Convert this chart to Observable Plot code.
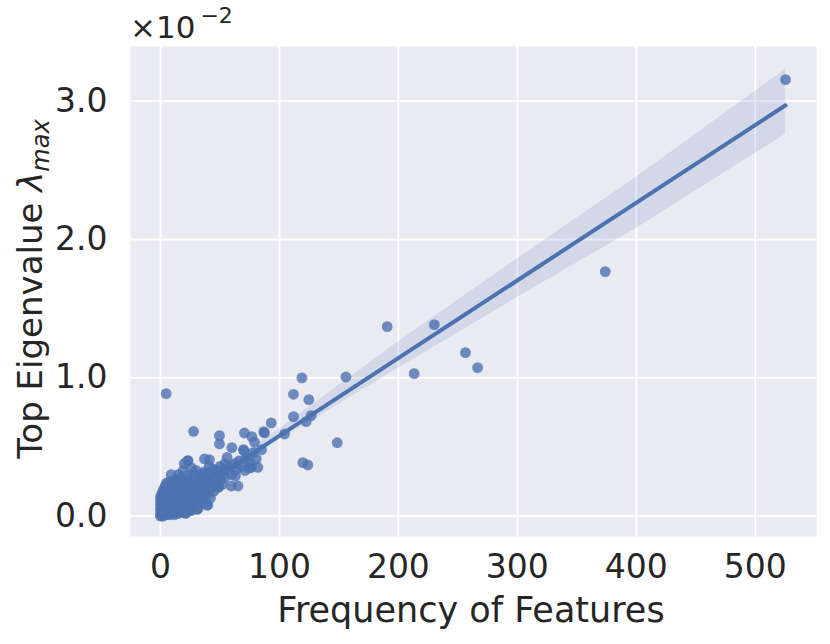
<!DOCTYPE html>
<html>
<head>
<meta charset="utf-8">
<script src="https://cdn.jsdelivr.net/npm/d3@7"></script>
<script src="https://cdn.jsdelivr.net/npm/@observablehq/plot@0.6"></script>
<style>
  html, body { margin: 0; padding: 0; background: #ffffff; }
  #chart { width: 830px; height: 644px; }
  svg { font-family: "DejaVu Sans", sans-serif; }
</style>
</head>
<body>
<div id="chart"></div>
<script>
// ---- data (eigenvalue in units of 1e-2) ----
const freq = [
  0,0,0,0,0,0, 1,1,1,1,1,1, 2,2,2,2,2,2, 3,3,3,3,3,3, 4,4,4,4,4,4, 5,5,5,5,5,5,5,
  6,6,6,6,6, 7,7,7,7,7, 8,8,8,8,8,8, 9,9,9,9,9, 10,10,10,10,10,
  11,11,11,11, 12,12,12,12,12, 13,13,13,13, 14,14,14,14, 15,15,15,15,15, 16,16,16,16,
  17,17,17,17, 18,18,18,18, 19,19,19,19, 20,20,20,20,20,
  21,21,21,21, 22,22,22,22, 23,23,23,23, 24,24,24, 25,25,25, 26,26,26,26, 27,27,27,
  28,28,28,28, 29,29, 30,30,30,30, 31,31, 32,32,32, 33,33, 34,34,34, 35,35,
  36,36, 37,37, 38,38, 39,39, 40,40, 41,41, 42,42, 43, 44,44, 45,45, 46, 47, 48,48, 49,49,
  50,50, 52,52, 54,54, 55,
  31.4,39.8,21.6,48.8,59.4,65.1,37,41.2,23,56,70.1,74.8,81.9,60,49.6,49.6,27.8,4.8,
  70.6,76.8,79,93.1,86.9,87.4,80.5,76.3,69.8,
  58,60,62,64,66,68,72,75,78,85,63,71,
  104.3,111.8,118.9,124.7,111.8,122.5,126.7,119.7,123.9,148.6,155.9,
  190.6,230.2,213.3,256.4,266.6,373.9,525.5
];
const eig = [
  0,0.02,0.05,0.08,0.11,0.14, 0.01,0.04,0.07,0.1,0.13,0.16, 0,0.03,0.06,0.09,0.12,0.18,
  0.01,0.04,0.08,0.11,0.15,0.2, 0.02,0.05,0.09,0.13,0.17,0.22, 0.01,0.04,0.07,0.11,0.15,0.19,0.24,
  0.02,0.06,0.1,0.14,0.18, 0.03,0.07,0.12,0.16,0.21, 0.01,0.05,0.09,0.13,0.19,0.25,
  0.03,0.08,0.3,0.14,0.2, 0.02,0.06,0.11,0.16,0.23,
  0.04,0.09,0.15,0.2, 0.01,0.06,0.12,0.18,0.26, 0.03,0.08,0.14,0.21, 0.05,0.1,0.17,0.24,
  0.02,0.07,0.13,0.19,0.3, 0.04,0.1,0.16,0.22,
  0.06,0.12,0.2,0.27, 0.03,0.09,0.15,0.23, 0.07,0.13,0.19,0.33, 0.05,0.11,0.17,0.25,0.38,
  0.02,0.09,0.15,0.22, 0.06,0.13,0.2,0.29, 0.1,0.17,0.25,0.4, 0.04,0.14,0.21, 0.08,0.16,0.27,
  0.04,0.12,0.19,0.35, 0.1,0.17,0.24,
  0.06,0.14,0.22,0.31, 0.12,0.19, 0.08,0.16,0.23,0.33, 0.05,0.21, 0.11,0.18,0.27, 0.14,0.25,
  0.09,0.2,0.3, 0.16,0.24,
  0.12,0.29, 0.2,0.32, 0.15,0.26, 0.08,0.22, 0.17,0.31, 0.24,0.36, 0.13,0.2, 0.27, 0.22,0.34,
  0.18,0.29, 0.25, 0.33, 0.21,0.28, 0.31,0.21,
  0.26,0.36, 0.3,0.23, 0.28,0.38, 0.33,
  0.052,0.081,0.023,0.213,0.218,0.218,0.414,0.408,0.401,0.425,0.474,0.348,0.353,0.495,0.582,0.522,0.613,0.886,
  0.601,0.575,0.534,0.674,0.611,0.602,0.414,0.353,0.481,
  0.36,0.3,0.38,0.34,0.4,0.36,0.42,0.39,0.46,0.48,0.29,0.33,
  0.594,0.881,1.0,0.842,0.72,0.683,0.727,0.387,0.370,0.531,1.006,
  1.37,1.385,1.03,1.182,1.074,1.768,3.156
];
// regression fit and confidence band
const fitX = [0, 525.5];
const fitY = [0.02, 2.97];
const bandX  = [0, 100, 200, 300, 400, 525.5];
const bandLo = [0.0, 0.55, 1.07, 1.58, 2.08, 2.76];
const bandHi = [0.04, 0.63, 1.26, 1.86, 2.45, 3.23];
const xTicks = [0, 100, 200, 300, 400, 500];
const yTicks = [0, 1, 2, 3];

const pts = freq.map((f, i) => ({x: f, y: eig[i]}));
const fit = fitX.map((x, i) => ({x, y: fitY[i]}));
const band = bandX.map((x, i) => ({x, lo: bandLo[i], hi: bandHi[i]}));

const blue = "#4C72B0";
const ink = "#262626";
const chart = Plot.plot({
  width: 830,
  height: 644,
  marginLeft: 130,
  marginRight: 14,
  marginTop: 46,
  marginBottom: 108,
  style: {fontFamily: "DejaVu Sans, sans-serif", fontSize: "33px", color: ink, background: "#ffffff"},
  x: {domain: [-25.2, 551.5], ticks: xTicks},
  y: {domain: [-0.147, 3.395], ticks: yTicks},
  marks: [
    Plot.frame({fill: "#EAEAF2", stroke: null}),
    Plot.gridX(xTicks, {stroke: "#ffffff", strokeOpacity: 1, strokeWidth: 1.8}),
    Plot.gridY(yTicks, {stroke: "#ffffff", strokeOpacity: 1, strokeWidth: 1.8}),
    Plot.axisX(xTicks, {tickSize: 0, tickPadding: 18, fontSize: 33, label: null, fill: ink}),
    Plot.axisY(yTicks, {tickSize: 0, tickPadding: 23, fontSize: 33, label: null, tickFormat: d3.format(".1f"), fill: ink}),
    Plot.dot(pts, {x: "x", y: "y", r: 5.4, fill: blue, fillOpacity: 0.8, stroke: null}),
    Plot.areaY(band, {x: "x", y1: "lo", y2: "hi", fill: blue, fillOpacity: 0.15}),
    Plot.line(fit, {x: "x", y: "y", stroke: blue, strokeWidth: 4})
  ]
});
document.getElementById("chart").appendChild(chart);

const svg = d3.select(chart);
// x-axis label
svg.append("text")
  .attr("x", 471).attr("y", 622)
  .attr("text-anchor", "middle")
  .attr("font-size", 35)
  .attr("fill", ink)
  .attr("font-family", "DejaVu Sans, sans-serif")
  .text("Frequency of Features");
// y-axis label with italic lambda and subscript
const yl = svg.append("text")
  .attr("transform", "translate(42,289) rotate(-90)")
  .attr("text-anchor", "middle")
  .attr("font-size", 34)
  .attr("fill", ink)
  .attr("font-family", "DejaVu Sans, sans-serif");
yl.append("tspan").text("Top Eigenvalue ");
yl.append("tspan").attr("font-style", "italic").text("λ");
yl.append("tspan").attr("font-style", "italic").attr("font-size", 24).attr("dy", 7).text("max");
// offset label
const off = svg.append("text")
  .attr("x", 130).attr("y", 38)
  .attr("text-anchor", "start")
  .attr("font-size", 31)
  .attr("fill", ink)
  .attr("font-family", "DejaVu Sans, sans-serif");
off.append("tspan").text("×10");
off.append("tspan").attr("font-size", 22).attr("dx", 5).attr("dy", -15).text("−2");
</script>
</body>
</html>
